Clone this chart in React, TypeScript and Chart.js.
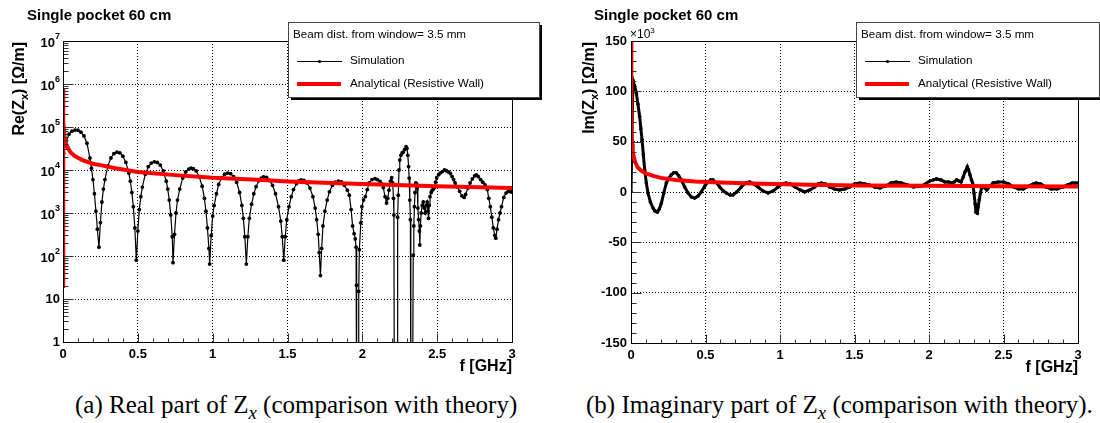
import React, { useEffect, useRef } from 'react';
import { Chart, registerables } from 'chart.js';
Chart.register(...registerables);

const SANS = '"Liberation Sans", Arial, Helvetica, sans-serif';

const freqTicks = [0, 0.5, 1, 1.5, 2, 2.5, 3];
const reDecadeTicks = [1, 10, 100, 1e3, 1e4, 1e5, 1e6, 1e7];
const imTicks = [-150, -100, -50, 0, 50, 100, 150];

const panelTitle = 'Single pocket 60 cm';
const legendHeader = 'Beam dist. from window= 3.5 mm';
const simLabel = 'Simulation';
const anaLabel = 'Analytical (Resistive Wall)';

// Re(Zx) simulation [f GHz, Ohm/m]
const reSimulation: [number, number][] = [
  [0.005, 2.5e4], [0.02, 4.5e4], [0.04, 6.8e4], [0.06, 8e4], [0.08, 8.5e4], [0.1, 8.4e4], [0.12, 7.6e4], [0.14, 6.2e4],
  [0.16, 4.2e4], [0.18, 1.9e4], [0.19, 1.1e4], [0.2, 6e3], [0.21, 2.8e3], [0.22, 1.1e3], [0.23, 420], [0.24, 160],
  [0.25, 600], [0.26, 1.8e3], [0.27, 3.6e3], [0.28, 6e3], [0.3, 1.25e4], [0.32, 1.9e4], [0.34, 2.4e4], [0.36, 2.6e4],
  [0.38, 2.5e4], [0.4, 2.1e4], [0.42, 1.5e4], [0.44, 8.5e3], [0.45, 5.5e3], [0.46, 3e3], [0.47, 1.4e3], [0.48, 450], [0.49, 80],
  [0.5, 380], [0.51, 1.2e3], [0.52, 2.4e3], [0.53, 4e3], [0.55, 8e3], [0.57, 1.2e4], [0.59, 1.45e4], [0.61, 1.55e4],
  [0.63, 1.5e4], [0.65, 1.3e4], [0.67, 9.5e3], [0.69, 5.5e3], [0.7, 3.6e3], [0.71, 2e3], [0.72, 900], [0.73, 280], [0.735, 70],
  [0.745, 320], [0.755, 1e3], [0.765, 2e3], [0.78, 3.6e3], [0.8, 6.5e3], [0.82, 9e3], [0.84, 1.05e4], [0.855, 1.1e4],
  [0.87, 1.07e4], [0.89, 9.5e3], [0.91, 7e3], [0.93, 4.2e3], [0.945, 2.2e3], [0.955, 1.1e3], [0.965, 450], [0.975, 150], [0.98, 65],
  [0.99, 300], [1.0, 850], [1.01, 1.5e3], [1.025, 2.8e3], [1.04, 4.6e3], [1.06, 6.6e3], [1.08, 8e3], [1.1, 8.5e3],
  [1.12, 8.2e3], [1.14, 7e3], [1.16, 5.2e3], [1.18, 3e3], [1.195, 1.5e3], [1.205, 750], [1.215, 280], [1.225, 65],
  [1.235, 280], [1.245, 750], [1.26, 1.6e3], [1.275, 2.8e3], [1.29, 4.1e3], [1.31, 5.7e3], [1.325, 6.5e3], [1.34, 6.9e3],
  [1.36, 6.7e3], [1.38, 5.8e3], [1.4, 4.4e3], [1.42, 2.8e3], [1.44, 1.4e3], [1.455, 650], [1.465, 280], [1.475, 80],
  [1.485, 280], [1.495, 700], [1.51, 1.4e3], [1.525, 2.4e3], [1.54, 3.5e3], [1.56, 4.8e3], [1.575, 5.6e3], [1.59, 5.9e3],
  [1.61, 5.7e3], [1.63, 5e3], [1.65, 3.8e3], [1.67, 2.4e3], [1.685, 1.3e3], [1.695, 700], [1.705, 320], [1.712, 120], [1.72, 35],
  [1.728, 150], [1.737, 500], [1.75, 1.1e3], [1.765, 2e3], [1.78, 3.1e3], [1.8, 4.4e3], [1.82, 5.2e3], [1.84, 5.5e3],
  [1.86, 5.3e3], [1.88, 4.4e3], [1.9, 3.4e3], [1.913, 2.6e3], [1.925, 1.2e3], [1.935, 500], [1.945, 330], [1.953, 250],
  [1.958, 160], [1.961, 21], [1.963, 0.01], [1.973, 0.01], [1.976, 15], [1.98, 140],
  [1.99, 590], [1.997, 1.4e3], [2.008, 2e3], [2.02, 2.4e3], [2.033, 3.5e3], [2.045, 5e3], [2.065, 6e3], [2.085, 6.3e3],
  [2.1, 6e3], [2.118, 5.4e3], [2.13, 4.8e3], [2.14, 3.9e3], [2.152, 2.4e3], [2.162, 1.7e3], [2.17, 2.2e3], [2.178, 3.4e3],
  [2.188, 5.5e3], [2.196, 6.6e3], [2.203, 5e3], [2.208, 2.2e3], [2.211, 900], [2.214, 0.01], [2.232, 0.01], [2.236, 800],
  [2.24, 2.6e3], [2.245, 1e4], [2.25, 1.7e4], [2.258, 2.2e4], [2.266, 2.5e4], [2.273, 2.6e4], [2.283, 3e4], [2.292, 3.5e4],
  [2.298, 3.2e4], [2.304, 2.2e4], [2.309, 1.2e4], [2.313, 6.5e3], [2.317, 2e3], [2.321, 700], [2.324, 0.01], [2.335, 0.01],
  [2.34, 105], [2.344, 500], [2.348, 1.4e3], [2.352, 3e3], [2.357, 5e3], [2.362, 4.8e3], [2.367, 3.8e3], [2.371, 1.3e3],
  [2.376, 700], [2.381, 380], [2.384, 180], [2.388, 500], [2.393, 1e3], [2.4, 1.5e3], [2.407, 1.8e3], [2.414, 1.3e3],
  [2.42, 1e3], [2.427, 1.5e3], [2.433, 1.8e3], [2.438, 1.1e3], [2.442, 750], [2.447, 1.5e3], [2.452, 2.4e3], [2.46, 3e3],
  [2.467, 3.4e3], [2.475, 3.6e3], [2.482, 3.9e3], [2.49, 5.2e3], [2.497, 6.6e3], [2.51, 7.8e3], [2.522, 8.6e3], [2.535, 9.2e3],
  [2.549, 1e4], [2.562, 9.6e3], [2.575, 9e3], [2.589, 8.3e3], [2.6, 7e3], [2.61, 6e3], [2.62, 5e3], [2.635, 4e3],
  [2.65, 3.2e3], [2.665, 2.5e3], [2.68, 2.3e3], [2.69, 2.7e3], [2.705, 3.8e3], [2.72, 5e3], [2.735, 6.2e3], [2.75, 7.3e3],
  [2.762, 7.7e3], [2.775, 7e3], [2.79, 6e3], [2.805, 5.2e3], [2.82, 4.5e3], [2.835, 3.5e3], [2.845, 2.2e3], [2.855, 1.4e3],
  [2.865, 800], [2.875, 450], [2.885, 300], [2.892, 260], [2.9, 420], [2.91, 700], [2.92, 1e3], [2.93, 1.4e3],
  [2.945, 2.3e3], [2.96, 2.9e3], [2.975, 3.2e3], [2.99, 3.1e3], [3.0, 3.1e3],
];

// Re(Zx) analytical resistive wall
const reAnalytical: [number, number][] = [
  [0, 20], [0, 8e5], [0.003, 1.4e5], [0.01, 6e4], [0.02, 4e4], [0.03, 3.4e4], [0.05, 2.6e4], [0.08, 2.1e4],
  [0.13, 1.7e4], [0.2, 1.4e4], [0.25, 1.3e4], [0.35, 1.1e4], [0.5, 9e3], [0.75, 7.6e3], [1, 6.6e3], [1.3, 5.9e3],
  [1.5, 5.4e3], [2, 4.7e3], [2.5, 4.2e3], [3, 3.8e3],
];

// Im(Zx) simulation [f GHz, 10^3 Ohm/m]
const imSimulation: [number, number][] = [
  [0, 0], [0.013, 111], [0.025, 105], [0.036, 98], [0.047, 87], [0.058, 75], [0.066, 63], [0.074, 52], [0.083, 37],
  [0.092, 22], [0.103, 9], [0.114, -1], [0.13, -10], [0.148, -16], [0.162, -19], [0.177, -20], [0.19, -17], [0.204, -11],
  [0.22, -1], [0.237, 9], [0.255, 14], [0.27, 17], [0.287, 19], [0.304, 19], [0.32, 16], [0.338, 12], [0.36, 5],
  [0.383, -1], [0.405, -5], [0.427, -6], [0.45, -4], [0.472, 0], [0.495, 6], [0.517, 10], [0.535, 12], [0.55, 12],
  [0.575, 9], [0.595, 5], [0.62, 1], [0.64, -1], [0.665, -3], [0.685, -3], [0.71, 0], [0.74, 5], [0.77, 9], [0.797, 10],
  [0.825, 8], [0.852, 5], [0.885, 1], [0.92, -1], [0.955, 1], [0.987, 5], [1.015, 8], [1.04, 9], [1.07, 8], [1.1, 5],
  [1.135, 2], [1.166, 0], [1.2, 2], [1.233, 5], [1.255, 8], [1.277, 9], [1.305, 8], [1.333, 5], [1.365, 3], [1.4, 2],
  [1.435, 3], [1.468, 5], [1.5, 8], [1.537, 9], [1.57, 8], [1.6, 7], [1.635, 5], [1.671, 4], [1.71, 6], [1.745, 9],
  [1.78, 10], [1.815, 9], [1.855, 7], [1.895, 5], [1.95, 6], [2.007, 11], [2.03, 12], [2.05, 13], [2.08, 12], [2.107, 10],
  [2.13, 10], [2.152, 9], [2.17, 10], [2.186, 12], [2.2, 11], [2.215, 10], [2.23, 15], [2.242, 20], [2.257, 25],
  [2.265, 22], [2.275, 17], [2.285, 12], [2.293, 9], [2.302, -1], [2.31, -12], [2.315, -20], [2.324, -21], [2.33, -15],
  [2.337, -8], [2.345, -1], [2.353, 4], [2.364, 5], [2.375, 4], [2.387, 2], [2.41, 6], [2.43, 9], [2.465, 10], [2.5, 10],
  [2.535, 8], [2.566, 5], [2.6, 3], [2.633, 3], [2.67, 6], [2.7, 8], [2.72, 9], [2.75, 8], [2.785, 5], [2.82, 3],
  [2.86, 3], [2.9, 5], [2.93, 7], [2.96, 9], [2.98, 9], [3.0, 9],
];

// Im(Zx) analytical resistive wall
const imAnalytical: [number, number][] = [
  [0, 160], [0.001, 120], [0.002, 80], [0.004, 60], [0.008, 48], [0.012, 40], [0.02, 34], [0.03, 29], [0.047, 24],
  [0.07, 21], [0.1, 18.5], [0.15, 16], [0.2, 14], [0.3, 12], [0.43, 10.5], [0.6, 9.5], [0.87, 8.2], [1.2, 7.2],
  [1.5, 6.5], [2, 6.2], [2.5, 5.8], [3, 5.5],
];

type PanelCfg = {
  kind: 'log' | 'lin';
  yPrefix: string;
  titleX: number;
  yTitleX: number;
  legendX: number;
  legendW: number;
};

function makeDecor(cfg: PanelCfg) {
  return {
    id: 'rootDecor',
    afterDraw(chart: any) {
      const ctx: CanvasRenderingContext2D = chart.ctx;
      const { left, right, top, bottom } = chart.chartArea;
      const xs = chart.scales.x;
      const ys = chart.scales.y;
      const L = Math.round(left) + 0.5;
      const R = Math.round(right) + 0.5;
      const T = Math.round(top) + 0.5;
      const B = Math.round(bottom) + 0.5;
      ctx.save();

      // inner tick marks
      ctx.strokeStyle = '#333';
      ctx.lineWidth = 1;
      ctx.beginPath();
      for (let i = 0; i <= 30; i++) {
        const px = Math.round(xs.getPixelForValue(i / 10)) + 0.5;
        const len = i % 5 === 0 ? 9 : 4;
        ctx.moveTo(px, B);
        ctx.lineTo(px, B - len);
      }
      if (cfg.kind === 'log') {
        for (let d = 0; d < 7; d++) {
          for (let m = 1; m <= 9; m++) {
            const py = Math.round(ys.getPixelForValue(m * Math.pow(10, d))) + 0.5;
            const len = m === 1 ? 10 : 5;
            ctx.moveTo(L, py);
            ctx.lineTo(L + len, py);
          }
        }
      } else {
        for (let v = -150; v <= 150; v += 10) {
          const py = Math.round(ys.getPixelForValue(v)) + 0.5;
          const len = v % 50 === 0 ? 10 : 5;
          ctx.moveTo(L, py);
          ctx.lineTo(L + len, py);
        }
      }
      ctx.stroke();

      // frame
      ctx.strokeStyle = '#000';
      ctx.strokeRect(L, T, R - L, B - T);

      ctx.fillStyle = '#000';
      // log axis labels with exponents
      if (cfg.kind === 'log') {
        ctx.textBaseline = 'middle';
        ctx.textAlign = 'left';
        reDecadeTicks.forEach((v) => {
          const n = Math.round(Math.log10(v));
          const py = ys.getPixelForValue(v);
          const main = n === 0 ? '1' : '10';
          const exp = n >= 2 ? String(n) : '';
          ctx.font = `bold 13px ${SANS}`;
          const wm = ctx.measureText(main).width;
          ctx.font = `bold 9px ${SANS}`;
          const we = exp ? ctx.measureText(exp).width : 0;
          const x0 = left - 3 - wm - we;
          ctx.font = `bold 13px ${SANS}`;
          ctx.fillText(main, x0, py + (exp ? 2.5 : 0));
          if (exp) {
            ctx.font = `bold 9px ${SANS}`;
            ctx.fillText(exp, x0 + wm, py - 4);
          }
        });
      } else {
        ctx.textBaseline = 'middle';
        ctx.textAlign = 'left';
        ctx.font = `12px ${SANS}`;
        const w = ctx.measureText('\u00d710').width;
        ctx.fillText('\u00d710', left - 1, top - 6);
        ctx.font = `8px ${SANS}`;
        ctx.fillText('3', left - 1 + w, top - 10);
      }

      // x axis title
      ctx.font = `bold 16px ${SANS}`;
      ctx.textAlign = 'right';
      ctx.textBaseline = 'middle';
      ctx.fillText('f [GHz]', right, bottom + 25);

      // y axis title with subscript
      ctx.save();
      ctx.translate(cfg.yTitleX, top + 1);
      ctx.rotate(-Math.PI / 2);
      ctx.textAlign = 'left';
      ctx.textBaseline = 'middle';
      const f1 = `bold 16px ${SANS}`;
      const f2 = `bold 11px ${SANS}`;
      const p3 = ') [\u03a9/m]';
      ctx.font = f1;
      const w1 = ctx.measureText(cfg.yPrefix).width;
      const w3 = ctx.measureText(p3).width;
      ctx.font = f2;
      const w2 = ctx.measureText('x').width;
      let tx = -(w1 + w2 + w3);
      ctx.font = f1;
      ctx.fillText(cfg.yPrefix, tx, 0);
      tx += w1;
      ctx.font = f2;
      ctx.fillText('x', tx, 5);
      tx += w2;
      ctx.font = f1;
      ctx.fillText(p3, tx, 0);
      ctx.restore();

      // panel title
      ctx.font = `bold 15px ${SANS}`;
      ctx.textAlign = 'left';
      ctx.textBaseline = 'middle';
      ctx.fillText(panelTitle, cfg.titleX, 16);

      // legend box
      const lx = cfg.legendX;
      const ly = 22;
      const lw = cfg.legendW;
      const lh = 75;
      ctx.fillStyle = '#000';
      ctx.fillRect(lx + 3, ly + 3, lw, lh);
      ctx.fillStyle = '#fff';
      ctx.fillRect(lx, ly, lw, lh);
      ctx.strokeStyle = '#444';
      ctx.strokeRect(lx + 0.5, ly + 0.5, lw, lh);
      ctx.fillStyle = '#000';
      ctx.font = `11.7px ${SANS}`;
      ctx.textAlign = 'left';
      ctx.textBaseline = 'middle';
      ctx.fillText(legendHeader, lx + 5, ly + 13);
      ctx.strokeStyle = '#000';
      ctx.lineWidth = 1;
      ctx.beginPath();
      ctx.moveTo(lx + 9, ly + 39.5);
      ctx.lineTo(lx + 54, ly + 39.5);
      ctx.stroke();
      ctx.beginPath();
      ctx.arc(lx + 31.5, ly + 39.5, 1.6, 0, Math.PI * 2);
      ctx.fill();
      ctx.fillText(simLabel, lx + 62, ly + 39);
      ctx.strokeStyle = '#ff0000';
      ctx.lineWidth = 4;
      ctx.beginPath();
      ctx.moveTo(lx + 9, ly + 62);
      ctx.lineTo(lx + 53, ly + 62);
      ctx.stroke();
      ctx.fillText(anaLabel, lx + 62, ly + 62);

      ctx.restore();
    },
  };
}

function buildChart(
  canvas: HTMLCanvasElement,
  sim: [number, number][],
  ana: [number, number][],
  cfg: PanelCfg,
  yAxisWidth: number,
  xAxisHeight: number,
  padRight: number,
  simWidth: number,
  simRadius: number,
) {
  const tickFont = { family: SANS, size: 13, weight: 'bold' as const };
  const yScale: any =
    cfg.kind === 'log'
      ? {
          type: 'logarithmic',
          min: 1,
          max: 1e7,
          afterBuildTicks: (s: any) => {
            s.ticks = reDecadeTicks.map((v) => ({ value: v }));
          },
          afterFit: (s: any) => {
            s.width = yAxisWidth;
          },
          grid: { color: '#000', drawTicks: false, lineWidth: 1 },
          border: { display: false, dash: [1, 2] },
          ticks: { display: false },
        }
      : {
          type: 'linear',
          min: -150,
          max: 150,
          afterBuildTicks: (s: any) => {
            s.ticks = imTicks.map((v) => ({ value: v }));
          },
          afterFit: (s: any) => {
            s.width = yAxisWidth;
          },
          grid: { color: '#000', drawTicks: false, lineWidth: 1 },
          border: { display: false, dash: [1, 2] },
          ticks: { font: tickFont, color: '#000', padding: 4, callback: (v: any) => String(v) },
        };
  return new Chart(canvas, {
    type: 'line',
    data: {
      datasets: [
        {
          label: simLabel,
          data: sim.map(([x, y]) => ({ x, y })),
          borderColor: '#000',
          backgroundColor: '#000',
          borderWidth: simWidth,
          pointRadius: simRadius,
          pointBorderWidth: 0,
          pointBackgroundColor: '#000',
          tension: 0,
          order: 1,
        },
        {
          label: anaLabel,
          data: ana.map(([x, y]) => ({ x, y })),
          borderColor: '#ff0000',
          borderWidth: 4,
          pointRadius: 0,
          tension: 0,
          order: 0,
        },
      ],
    },
    options: {
      animation: false,
      responsive: false,
      events: [],
      layout: { padding: { left: 0, top: 41, right: padRight, bottom: 0 } },
      plugins: { legend: { display: false }, tooltip: { enabled: false }, title: { display: false } },
      scales: {
        x: {
          type: 'linear',
          min: 0,
          max: 3,
          afterBuildTicks: (s: any) => {
            s.ticks = freqTicks.map((v) => ({ value: v }));
          },
          afterFit: (s: any) => {
            s.height = xAxisHeight;
          },
          grid: { color: '#000', drawTicks: false, lineWidth: 1 },
          border: { display: false, dash: [1, 2] },
          ticks: {
            font: tickFont,
            color: '#000',
            padding: 5,
            maxRotation: 0,
            autoSkip: false,
            callback: (v: any) => String(v),
          },
        },
        y: yScale,
      },
    } as any,
    plugins: [makeDecor(cfg)],
  });
}

export default function App() {
  const leftRef = useRef<HTMLCanvasElement>(null);
  const rightRef = useRef<HTMLCanvasElement>(null);

  useEffect(() => {
    const c1 = buildChart(
      leftRef.current!,
      reSimulation,
      reAnalytical,
      { kind: 'log', yPrefix: 'Re(Z', titleX: 27, yTitleX: 20, legendX: 288, legendW: 251 },
      63,
      38,
      43,
      1.2,
      1.9,
    );
    const c2 = buildChart(
      rightRef.current!,
      imSimulation,
      imAnalytical,
      { kind: 'lin', yPrefix: 'Im(Z', titleX: 39, yTitleX: 35, legendX: 301, legendW: 243 },
      76,
      37,
      22,
      3,
      1.8,
    );
    return () => {
      c1.destroy();
      c2.destroy();
    };
  }, []);

  const capStyle: React.CSSProperties = {
    position: 'absolute',
    top: 391,
    whiteSpace: 'nowrap',
    fontFamily: '"Liberation Serif", "Times New Roman", serif',
    fontSize: 25,
    lineHeight: '28px',
    color: '#000',
  };
  const sub = (
    <span style={{ fontStyle: 'italic', fontSize: '0.75em', position: 'relative', top: '0.3em' }}>x</span>
  );

  return (
    <div style={{ position: 'absolute', left: 0, top: 0, width: 1100, height: 423, background: '#fff', overflow: 'hidden' }}>
      <canvas ref={leftRef} width={555} height={380} style={{ position: 'absolute', left: 0, top: 0 }} />
      <canvas ref={rightRef} width={545} height={380} style={{ position: 'absolute', left: 555, top: 0 }} />
      <div style={{ ...capStyle, left: 75 }}>
        (a) Real part of Z{sub} (comparison with theory)
      </div>
      <div style={{ ...capStyle, left: 586 }}>
        (b) Imaginary part of Z{sub} (comparison with theory).
      </div>
    </div>
  );
}
